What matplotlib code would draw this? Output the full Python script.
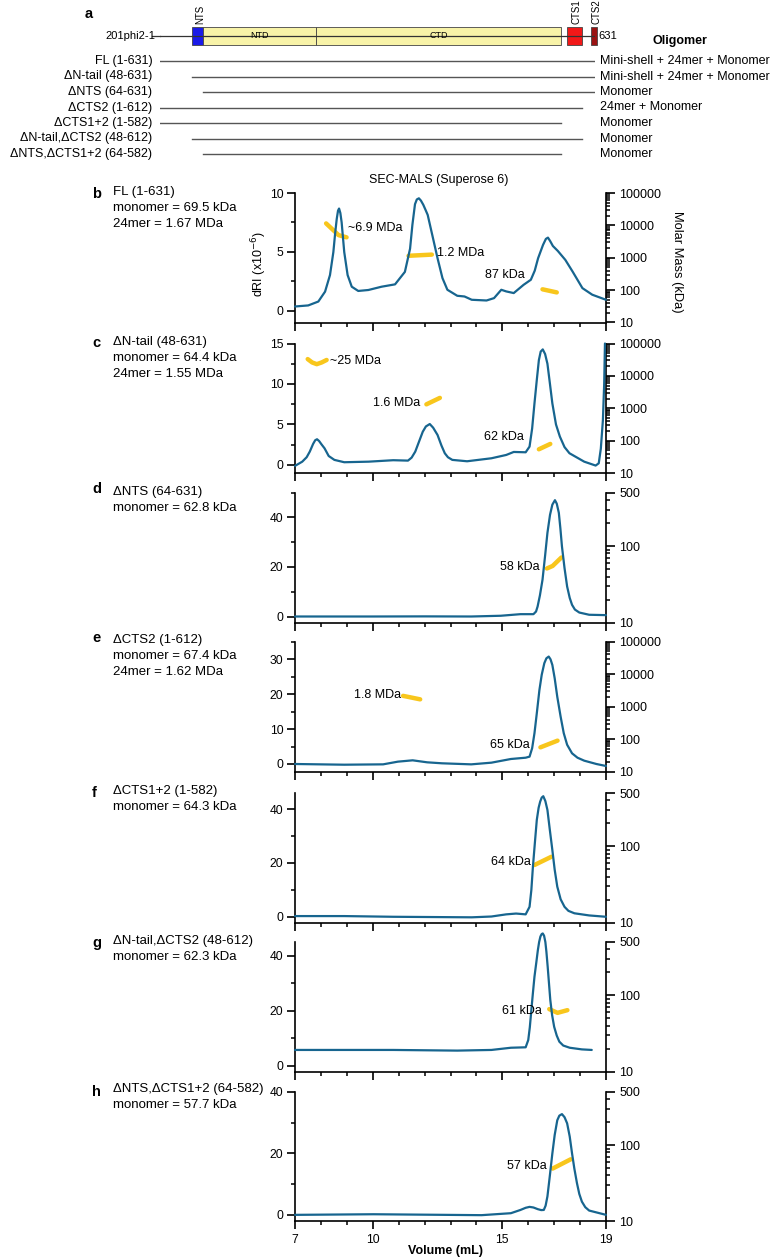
import matplotlib
matplotlib.use('Agg')
import matplotlib.pyplot as plt
from matplotlib.patches import Rectangle
from matplotlib.ticker import FixedLocator, NullFormatter, FixedFormatter

plt.rcParams['font.family'] = ['Liberation Sans', 'DejaVu Sans']

# ---------------- panel a data ----------------
construct_names = ['FL (1-631)', 'ΔN-tail (48-631)', 'ΔNTS (64-631)', 'ΔCTS2 (1-612)',
                   'ΔCTS1+2 (1-582)', 'ΔN-tail,ΔCTS2 (48-612)', 'ΔNTS,ΔCTS1+2 (64-582)']
construct_start = [1, 48, 64, 1, 1, 48, 64]
construct_end = [631, 631, 631, 612, 582, 612, 582]
oligomer_states = ['Mini-shell + 24mer + Monomer', 'Mini-shell + 24mer + Monomer', 'Monomer',
                   '24mer + Monomer', 'Monomer', 'Monomer', 'Monomer']
domain_names = ['NTS', 'NTD', 'CTD', 'CTS1', 'CTS2']
domain_start = [48, 64, 227, 591, 626]
domain_end = [64, 227, 582, 612, 634]
domain_colors = ['#1a1ae8', '#f8f3a8', '#f8f3a8', '#f21818', '#9a1212']

# ---------------- SEC-MALS traces (volume mL, dRI) ----------------
vol_b = [7.0, 7.51, 7.9, 8.16, 8.35, 8.48, 8.55, 8.61, 8.66, 8.70, 8.75, 8.8, 8.9, 9.03, 9.19, 9.44,
         9.83, 10.34, 10.86, 11.24, 11.44, 11.53, 11.63, 11.70, 11.78, 11.86, 11.95, 12.03, 12.12,
         12.3, 12.5, 12.69, 12.88, 13.26, 13.54, 13.82, 14.39, 14.68, 14.96, 15.15, 15.44, 15.82,
         16.1, 16.25, 16.38, 16.57, 16.68, 16.76, 16.85, 16.95, 17.14, 17.43, 17.71, 18.09, 18.47, 19.0]
dri_b = [0.36, 0.45, 0.78, 1.62, 3.03, 4.98, 6.6, 7.79, 8.5, 8.68, 8.3, 7.5, 4.98, 3.03, 2.04, 1.68,
         1.76, 2.04, 2.24, 3.3, 5.27, 7.3, 9.05, 9.45, 9.55, 9.35, 9.0, 8.6, 8.14,
         6.4, 4.46, 2.77, 1.78, 1.27, 1.21, 0.93, 0.87, 1.07, 1.78, 1.64, 1.5, 2.2,
         2.63, 3.4, 4.46, 5.59, 6.1, 6.21, 5.9, 5.5, 5.08, 4.32, 3.33, 1.92, 1.36, 0.93]

vol_c = [7.0, 7.28, 7.45, 7.57, 7.7, 7.78, 7.85, 7.93, 8.02, 8.14, 8.3, 8.52, 8.9, 9.84, 10.79, 11.36,
         11.5, 11.64, 11.8, 11.93, 12.05, 12.2, 12.33, 12.5, 12.65, 12.78, 12.9, 13.07, 13.64, 14.58,
         15.15, 15.44, 15.9, 16.05, 16.15, 16.24, 16.33, 16.41, 16.48, 16.56, 16.65, 16.74, 16.83,
         16.93, 17.07, 17.22, 17.4, 17.59, 18.16, 18.6, 18.72, 18.8, 18.88, 18.93, 18.96]
dri_c = [-0.12, 0.4, 0.95, 1.64, 2.6, 3.05, 3.17, 2.95, 2.55, 2.05, 1.1, 0.62, 0.33, 0.4, 0.58, 0.53,
         0.9, 1.64, 3.0, 4.1, 4.75, 5.05, 4.6, 3.7, 2.4, 1.44, 0.95, 0.62, 0.45, 0.82,
         1.23, 1.6, 1.56, 2.26, 4.5, 7.6, 10.5, 12.95, 14.0, 14.27, 13.7, 12.5, 10.2,
         7.6, 5.0, 3.5, 2.2, 1.44, 0.4, -0.08, 0.2, 2.0, 5.5, 10.0, 15.0]

vol_d = [7.0, 10.0, 12.0, 13.8, 14.94, 15.7, 16.2, 16.3, 16.36, 16.45, 16.55, 16.65, 16.74, 16.84,
         16.93, 17.03, 17.1, 17.18, 17.24, 17.3, 17.4, 17.5, 17.6, 17.69, 17.8, 17.97, 18.35, 19.0]
dri_d = [0.0, 0.0, 0.05, 0.0, 0.3, 0.94, 0.94, 2.0, 4.0, 8.5, 14.8, 24.5, 33.7, 41.0,
         45.1, 46.9, 45.5, 41.8, 35.5, 28.3, 19.5, 12.1, 7.5, 4.7, 2.8, 1.6, 0.7, 0.55]

vol_e = [7.0, 8.9, 10.4, 10.97, 11.54, 12.1, 12.67, 13.8, 14.58, 15.33, 15.9, 16.05, 16.15, 16.24,
         16.33, 16.43, 16.52, 16.62, 16.7, 16.79, 16.86, 16.93, 17.02, 17.12, 17.25, 17.37, 17.5,
         17.69, 17.9, 18.16, 18.63, 19.0]
dri_e = [0.0, -0.2, -0.1, 0.67, 1.05, 0.48, 0.2, -0.1, 0.38, 1.43, 1.8, 2.1, 4.5, 8.8,
         14.5, 21.1, 25.5, 28.8, 30.2, 30.7, 29.9, 28.3, 24.5, 19.2, 13.5, 8.8, 5.5,
         3.05, 1.8, 0.95, 0.0, -0.57]

vol_f = [7.0, 8.9, 10.79, 13.82, 14.58, 15.15, 15.53, 15.9, 16.05, 16.12, 16.18, 16.26, 16.33, 16.4,
         16.46, 16.52, 16.58, 16.66, 16.74, 16.83, 16.93, 17.02, 17.12, 17.25, 17.4, 17.55, 17.78,
         18.35, 19.0]
dri_f = [0.26, 0.26, 0.0, -0.2, 0.1, 0.9, 1.2, 0.9, 3.7, 10.0, 18.6, 28.0, 36.0, 40.5,
         42.8, 44.3, 44.8, 43.0, 39.7, 32.5, 24.8, 17.5, 11.2, 6.5, 3.7, 2.2, 1.3,
         0.5, 0.0]

vol_g = [7.0, 10.79, 13.26, 14.58, 15.33, 15.9, 16.0, 16.06, 16.12, 16.18, 16.24, 16.31, 16.37,
         16.42, 16.47, 16.52, 16.56, 16.61, 16.66, 16.7, 16.75, 16.8, 16.85, 16.92, 17.0, 17.1,
         17.2, 17.35, 17.6, 18.07, 18.45]
dri_g = [5.8, 5.8, 5.56, 5.8, 6.6, 6.76, 9.4, 14.0, 20.3, 26.5, 32.4, 37.5, 42.0,
         45.0, 47.0, 47.9, 48.1, 47.3, 45.0, 41.5, 36.0, 30.0, 24.0, 18.5, 14.2, 11.0,
         8.8, 7.4, 6.6, 6.0, 5.8]

vol_h = [7.0, 10.03, 14.2, 15.33, 15.7, 15.9, 16.05, 16.2, 16.37, 16.5, 16.6, 16.67, 16.74, 16.83,
         16.93, 17.02, 17.12, 17.2, 17.3, 17.4, 17.5, 17.6, 17.69, 17.78, 17.88, 17.97, 18.07,
         18.2, 18.35, 19.0]
dri_h = [0.0, 0.2, -0.1, 0.54, 1.6, 2.3, 2.6, 2.4, 1.85, 1.55, 1.6, 3.0, 6.0, 12.5,
         20.0, 26.0, 30.8, 32.3, 32.8, 31.8, 29.8, 25.5, 20.0, 15.0, 10.3, 6.8, 4.3,
         2.5, 1.4, 0.0]

# molar mass segments (volume, kDa)
mm_vol_b = [[8.20, 8.68, 8.99], [11.38, 12.28], [16.55, 17.10]]
mm_kda_b = [[11500, 5000, 4270], [1150, 1250], [106, 85]]
mm_vol_c = [[7.49, 7.66, 7.84, 8.03, 8.22], [12.07, 12.59], [16.41, 16.85]]
mm_kda_c = [[33000, 26000, 23000, 26000, 31000], [1320, 2090], [54, 79]]
mm_vol_d = [[16.72, 16.94, 17.28]]
mm_kda_d = [[51, 55, 71]]
mm_vol_e = [[11.17, 11.83], [16.47, 17.13]]
mm_kda_e = [[2140, 1670], [56, 90]]
mm_vol_f = [[16.24, 16.89]]
mm_kda_f = [[57, 73]]
mm_vol_g = [[16.81, 17.13, 17.51]]
mm_kda_g = [[66, 59, 64]]
mm_vol_h = [[16.94, 17.64]]
mm_kda_h = [[49, 65]]

# mass annotations: (text, volume, dRI-level, alignment)
ann_b = [('~6.9 MDa', 9.05, 7.0, 'left'), ('1.2 MDa', 12.46, 4.9, 'left'), ('87 kDa', 14.34, 3.0, 'left')]
ann_c = [('~25 MDa', 8.35, 12.8, 'left'), ('1.6 MDa', 11.83, 7.7, 'right'), ('62 kDa', 15.85, 3.4, 'right')]
ann_d = [('58 kDa', 16.42, 20.0, 'right')]
ann_e = [('1.8 MDa', 11.08, 19.7, 'right'), ('65 kDa', 16.06, 5.4, 'right')]
ann_f = [('64 kDa', 16.1, 20.2, 'right')]
ann_g = [('61 kDa', 16.54, 20.0, 'right')]
ann_h = [('57 kDa', 16.73, 15.9, 'right')]

panel_letters = ['b', 'c', 'd', 'e', 'f', 'g', 'h']
panel_info = [['FL (1-631)', 'monomer = 69.5 kDa', '24mer = 1.67 MDa'],
              ['ΔN-tail (48-631)', 'monomer = 64.4 kDa', '24mer = 1.55 MDa'],
              ['ΔNTS (64-631)', 'monomer = 62.8 kDa'],
              ['ΔCTS2 (1-612)', 'monomer = 67.4 kDa', '24mer = 1.62 MDa'],
              ['ΔCTS1+2 (1-582)', 'monomer = 64.3 kDa'],
              ['ΔN-tail,ΔCTS2 (48-612)', 'monomer = 62.3 kDa'],
              ['ΔNTS,ΔCTS1+2 (64-582)', 'monomer = 57.7 kDa']]
left_ylims = [(-1, 10), (-1, 15), (-2.5, 50), (-2.2, 35), (-2.2, 46), (-2.1, 45), (-2, 40)]
left_major = [[0, 5, 10], [0, 5, 10, 15], [0, 20, 40], [0, 10, 20, 30], [0, 20, 40], [0, 20, 40], [0, 20, 40]]
left_minor = [[2.5, 7.5], [2.5, 7.5, 12.5], [10, 30, 50], [5, 15, 25, 35], [10, 30], [10, 30], [10, 30]]
right_top = [100000, 100000, 500, 100000, 500, 500, 500]
x_major = [7, 10, 15, 19]
x_minor = [8, 9, 11, 12, 13, 14, 16, 17, 18]

# ---------------- layout ----------------
W, H = 771, 1258
fig = plt.figure(figsize=(W / 100, H / 100), dpi=100)
BLUE = '#17658f'
YEL = '#f8c61c'
FS = 9


def fx(x):
    return x / W


def fy(y):
    return 1 - y / H


# ---- panel a ----
a_left, a_right = 159.8, 594.9
row0, rowstep = 61, 15.5
ax_a = fig.add_axes([fx(a_left), fy(165), (a_right - a_left) / W, 165 / H])
ax_a.set_xlim(1, 631)
ax_a.set_ylim((165 - row0) / rowstep, (0 - row0) / rowstep)
ax_a.axis('off')
ty = ax_a.get_yaxis_transform()
sch_y = (36 - row0) / rowstep
box_bot = (45 - row0) / rowstep
box_top = (27 - row0) / rowstep
ax_a.plot([1, 631], [sch_y, sch_y], color='#333333', lw=0.9)
ax_a.plot([-10, 1], [sch_y, sch_y], color='#333333', lw=0.9, clip_on=False)
for nm, s, e, c in zip(domain_names, domain_start, domain_end, domain_colors):
    ax_a.add_patch(Rectangle((s, box_top), e - s, box_bot - box_top, facecolor=c,
                             edgecolor='#444444', lw=0.6, clip_on=False))
    if nm in ('NTD', 'CTD'):
        ax_a.text((s + e) / 2, sch_y, nm, ha='center', va='center', fontsize=6.5)
    else:
        ax_a.text((s + e) / 2 + 3, box_top - 0.2, nm, ha='center', va='bottom', rotation=90,
                  fontsize=7, clip_on=False)
ax_a.text(-0.011, sch_y, '201phi2-1', transform=ty, ha='right', va='center', fontsize=8)
ax_a.text(1.009, sch_y, '631', transform=ty, ha='left', va='center', fontsize=8)
ax_a.text(1.132, (41 - row0) / rowstep, 'Oligomer', transform=ty, ha='left', va='center',
          fontsize=9, fontweight='bold')
ax_a.text(-0.173, (14 - row0) / rowstep, 'a', transform=ty, ha='left', va='center',
          fontsize=10.5, fontweight='bold')
for i, (nm, s, e, olig) in enumerate(zip(construct_names, construct_start, construct_end, oligomer_states)):
    ax_a.plot([s, e], [i, i], color='#555555', lw=1.0)
    ax_a.text(-0.017, i, nm, transform=ty, ha='right', va='center', fontsize=FS)
    ax_a.text(1.0113, i, olig, transform=ty, ha='left', va='center', fontsize=FS)

# ---- SEC-MALS panels ----
ax_left, ax_w = 295, 311
tops = [193, 343.5, 492.5, 641.5, 793, 942, 1092]
bots = [322.5, 473, 622.7, 771.7, 922.7, 1071.7, 1221]
info_y0 = [192, 341.7, 491.7, 640, 790.7, 940.7, 1089.3]
letter_y = [194, 343, 489, 638, 793, 943, 1092]

vols = [vol_b, vol_c, vol_d, vol_e, vol_f, vol_g, vol_h]
dris = [dri_b, dri_c, dri_d, dri_e, dri_f, dri_g, dri_h]
mm_vols = [mm_vol_b, mm_vol_c, mm_vol_d, mm_vol_e, mm_vol_f, mm_vol_g, mm_vol_h]
mm_kdas = [mm_kda_b, mm_kda_c, mm_kda_d, mm_kda_e, mm_kda_f, mm_kda_g, mm_kda_h]
anns = [ann_b, ann_c, ann_d, ann_e, ann_f, ann_g, ann_h]

for k in range(7):
    top, bot = tops[k], bots[k]
    ax = fig.add_axes([fx(ax_left), fy(bot), ax_w / W, (bot - top) / H])
    ax.set_xlim(7, 19)
    ax.set_ylim(*left_ylims[k])
    ax2 = ax.twinx()
    ax2.set_yscale('log')
    ax2.set_ylim(10, right_top[k])
    ax2.set_zorder(1)
    ax.set_zorder(2)
    ax.patch.set_visible(False)
    for sp in ['top', 'right']:
        ax.spines[sp].set_visible(False)
    for sp in ['top', 'left', 'bottom']:
        ax2.spines[sp].set_visible(False)
    for spn in [ax.spines['left'], ax.spines['bottom'], ax2.spines['right']]:
        spn.set_linewidth(1.2)
    ax.xaxis.set_major_locator(FixedLocator(x_major))
    ax.xaxis.set_minor_locator(FixedLocator(x_minor))
    ax.yaxis.set_major_locator(FixedLocator(left_major[k]))
    ax.yaxis.set_minor_locator(FixedLocator(left_minor[k]))
    ax.tick_params(axis='both', which='major', direction='out', length=5.8, width=1.2,
                   labelsize=8.7, pad=2.5)
    ax.tick_params(axis='both', which='minor', direction='out', length=3.2, width=1.1)
    ax.tick_params(axis='x', which='major', pad=3.5)
    if k < 6:
        ax.tick_params(axis='x', labelbottom=False)
    if right_top[k] == 100000:
        rmaj = [10, 100, 1000, 10000, 100000]
        rmin = [m * d for d in [10, 100, 1000, 10000] for m in range(2, 10)]
    else:
        rmaj = [10, 100, 500]
        rmin = [m * 10 for m in range(2, 10)] + [200, 300, 400]
    ax2.yaxis.set_major_locator(FixedLocator(rmaj))
    ax2.yaxis.set_major_formatter(FixedFormatter([str(v) for v in rmaj]))
    ax2.yaxis.set_minor_locator(FixedLocator(rmin))
    ax2.yaxis.set_minor_formatter(NullFormatter())
    ax2.tick_params(axis='y', which='major', direction='out', length=6.5, width=1.2,
                    labelsize=9, pad=3)
    ax2.tick_params(axis='y', which='minor', direction='out', length=3.2, width=1.1)

    ax.plot(vols[k], dris[k], color=BLUE, lw=1.6, clip_on=False, zorder=3,
            solid_joinstyle='round', solid_capstyle='round')
    for v, m in zip(mm_vols[k], mm_kdas[k]):
        ax2.plot(v, m, color=YEL, lw=3.2, solid_capstyle='round', solid_joinstyle='round', zorder=4)
    for txt, xv, yv, al in anns[k]:
        ax.text(xv, yv, txt, ha=al, va='center', fontsize=9, zorder=5)

    fig.text(fx(92), fy(letter_y[k]), panel_letters[k], ha='left', va='center',
             fontsize=10.5, fontweight='bold')
    for j, line in enumerate(panel_info[k]):
        fig.text(fx(113), fy(info_y0[k] + 16 * j), line, ha='left', va='center', fontsize=9.5)

    if k == 0:
        fig.text(fx(438.5), fy(180), 'SEC-MALS (Superose 6)', ha='center', va='center', fontsize=9)
        fig.text(fx(259), fy(264), 'dRI (x10$^{-6}$)', ha='center', va='center', rotation=90,
                 fontsize=9)
        fig.text(fx(677), fy(262), 'Molar Mass (kDa)', ha='center', va='center', rotation=270,
                 fontsize=9.3)
    if k == 6:
        ax.set_xticklabels([str(v) for v in x_major])
        fig.text(fx(445.6), fy(1251), 'Volume (mL)', ha='center', va='center', fontsize=9,
                 fontweight='bold')

fig.savefig('out.png', dpi=100)
